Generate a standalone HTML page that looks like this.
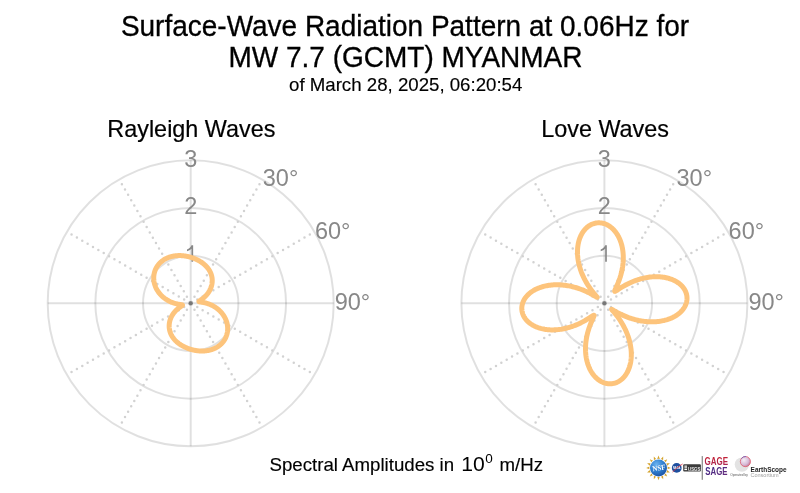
<!DOCTYPE html>
<html><head><meta charset="utf-8">
<style>
html,body{margin:0;padding:0;background:#fff;}
body{width:800px;height:493px;overflow:hidden;position:relative;font-family:"Liberation Sans",sans-serif;}
svg{position:absolute;left:0;top:0;will-change:transform;}
.t{font-size:28px;fill:#000;stroke:#000;stroke-width:0.3px;}
.st{font-size:18.67px;fill:#000;stroke:#000;stroke-width:0.15px;}
.sub{font-size:23.4px;fill:#000;stroke:#000;stroke-width:0.2px;}
.lab{font-size:23.5px;fill:#888;}
.ft{font-size:18.67px;fill:#000;stroke:#000;stroke-width:0.15px;}
</style></head><body>
<svg width="800" height="493" viewBox="0 0 800 493" font-family="Liberation Sans, sans-serif">
<g transform="translate(0,36.3) scale(1,1.04) translate(0,-36.3)"><text x="405" y="36.3" text-anchor="middle" class="t">Surface-Wave Radiation Pattern at 0.06Hz for</text></g>
<g transform="translate(0,66.7) scale(1,1.04) translate(0,-66.7)"><text x="405.5" y="66.7" text-anchor="middle" class="t">MW 7.7 (GCMT) MYANMAR</text></g>
<text x="405.7" y="90.6" text-anchor="middle" class="st">of March 28, 2025, 06:20:54</text>
<circle cx="190.7" cy="303.3" r="47.67" fill="none" stroke="rgba(0,0,0,0.12)" stroke-width="2"/>
<circle cx="190.7" cy="303.3" r="95.33" fill="none" stroke="rgba(0,0,0,0.12)" stroke-width="2"/>
<circle cx="190.7" cy="303.3" r="143.00" fill="none" stroke="rgba(0,0,0,0.12)" stroke-width="2"/>
<line x1="190.7" y1="303.3" x2="262.20" y2="179.46" stroke="#d2d2d2" stroke-width="2.5" stroke-linecap="round" stroke-dasharray="0 6.19" stroke-dashoffset="-1.4"/>
<line x1="190.7" y1="303.3" x2="314.54" y2="231.80" stroke="#d2d2d2" stroke-width="2.5" stroke-linecap="round" stroke-dasharray="0 6.19" stroke-dashoffset="-1.4"/>
<line x1="190.7" y1="303.3" x2="314.54" y2="374.80" stroke="#d2d2d2" stroke-width="2.5" stroke-linecap="round" stroke-dasharray="0 6.19" stroke-dashoffset="-1.4"/>
<line x1="190.7" y1="303.3" x2="262.20" y2="427.14" stroke="#d2d2d2" stroke-width="2.5" stroke-linecap="round" stroke-dasharray="0 6.19" stroke-dashoffset="-1.4"/>
<line x1="190.7" y1="303.3" x2="119.20" y2="427.14" stroke="#d2d2d2" stroke-width="2.5" stroke-linecap="round" stroke-dasharray="0 6.19" stroke-dashoffset="-1.4"/>
<line x1="190.7" y1="303.3" x2="66.86" y2="374.80" stroke="#d2d2d2" stroke-width="2.5" stroke-linecap="round" stroke-dasharray="0 6.19" stroke-dashoffset="-1.4"/>
<line x1="190.7" y1="303.3" x2="66.86" y2="231.80" stroke="#d2d2d2" stroke-width="2.5" stroke-linecap="round" stroke-dasharray="0 6.19" stroke-dashoffset="-1.4"/>
<line x1="190.7" y1="303.3" x2="119.20" y2="179.46" stroke="#d2d2d2" stroke-width="2.5" stroke-linecap="round" stroke-dasharray="0 6.19" stroke-dashoffset="-1.4"/>
<line x1="47.69999999999999" y1="303.3" x2="333.7" y2="303.3" stroke="rgba(0,0,0,0.12)" stroke-width="2"/>
<line x1="190.7" y1="160.3" x2="190.7" y2="446.3" stroke="rgba(0,0,0,0.12)" stroke-width="2"/>
<circle cx="190.7" cy="303.3" r="2" fill="#777"/>
<text x="190.7" y="214.27" text-anchor="middle" class="lab">2</text>
<text x="190.7" y="166.60" text-anchor="middle" class="lab">3</text>
<path d="M191.45,245.23 H193.15 V261.83 H191.45 V248.83 C190.40,249.83 188.70,250.73 187.00,251.33 V249.53 C189.10,248.73 190.90,247.13 191.45,245.23 Z" fill="#888"/>
<text x="262.80" y="186.10" class="lab">30°</text>
<text x="314.90" y="238.60" class="lab">60°</text>
<text x="334.70" y="310.20" class="lab">90°</text>
<polygon points="190.70,257.27 191.10,257.40 191.50,257.52 191.90,257.65 192.29,257.78 192.68,257.92 193.07,258.06 193.46,258.20 193.84,258.35 194.23,258.50 194.61,258.65 194.98,258.81 195.36,258.97 195.73,259.13 196.10,259.30 196.47,259.47 196.84,259.64 197.20,259.82 197.56,260.00 197.92,260.18 198.27,260.37 198.62,260.56 198.97,260.75 199.32,260.95 199.66,261.15 200.00,261.35 200.34,261.56 200.67,261.77 201.00,261.98 201.33,262.20 201.65,262.42 201.97,262.65 202.29,262.87 202.61,263.10 202.92,263.34 203.22,263.58 203.53,263.82 203.83,264.06 204.13,264.31 204.42,264.56 204.71,264.82 204.99,265.08 205.27,265.34 205.55,265.61 205.82,265.88 206.09,266.15 206.35,266.43 206.61,266.71 206.87,266.99 207.12,267.28 207.36,267.57 207.60,267.87 207.84,268.16 208.07,268.47 208.29,268.77 208.51,269.08 208.73,269.40 208.94,269.71 209.14,270.03 209.34,270.36 209.53,270.68 209.72,271.01 209.90,271.35 210.07,271.68 210.24,272.02 210.41,272.37 210.56,272.71 210.71,273.06 210.86,273.42 210.99,273.77 211.12,274.13 211.25,274.49 211.36,274.86 211.47,275.23 211.58,275.60 211.67,275.97 211.76,276.35 211.84,276.72 211.91,277.10 211.98,277.49 212.04,277.87 212.09,278.26 212.13,278.64 212.17,279.04 212.20,279.43 212.21,279.82 212.23,280.22 212.23,280.61 212.23,281.01 212.21,281.41 212.19,281.81 212.16,282.21 212.13,282.61 212.08,283.01 212.03,283.41 211.96,283.82 211.89,284.22 211.81,284.62 211.73,285.02 211.63,285.42 211.53,285.82 211.41,286.22 211.29,286.62 211.16,287.02 211.03,287.42 210.88,287.81 210.73,288.21 210.56,288.60 210.39,288.99 210.22,289.38 210.03,289.77 209.83,290.15 209.63,290.53 209.42,290.91 209.20,291.28 208.98,291.65 208.75,292.02 208.51,292.39 208.26,292.75 208.01,293.10 207.75,293.46 207.48,293.81 207.21,294.15 206.93,294.49 206.65,294.82 206.36,295.15 206.06,295.47 205.77,295.79 205.46,296.10 205.15,296.41 204.84,296.70 204.53,297.00 204.22,297.28 203.90,297.56 203.58,297.83 203.26,298.10 202.94,298.35 202.63,298.60 202.31,298.84 202.00,299.07 201.70,299.30 201.40,299.51 201.11,299.72 200.82,299.91 200.55,300.10 200.29,300.27 200.05,300.44 199.82,300.60 199.61,300.74 199.43,300.88 199.27,301.00 199.13,301.12 199.02,301.23 198.94,301.32 198.90,301.41 198.88,301.49 198.90,301.56 198.96,301.62 199.05,301.68 199.17,301.73 199.33,301.78 199.51,301.82 199.73,301.87 199.98,301.91 200.25,301.96 200.54,302.00 200.86,302.05 201.20,302.10 201.56,302.16 201.93,302.22 202.32,302.28 202.72,302.35 203.13,302.43 203.56,302.51 203.99,302.60 204.43,302.70 204.88,302.80 205.33,302.92 205.79,303.04 206.26,303.16 206.73,303.30 207.20,303.44 207.67,303.60 208.15,303.76 208.63,303.93 209.10,304.10 209.58,304.29 210.06,304.48 210.53,304.69 211.01,304.90 211.48,305.12 211.95,305.35 212.42,305.58 212.89,305.83 213.35,306.08 213.81,306.34 214.27,306.61 214.72,306.89 215.17,307.18 215.61,307.47 216.05,307.77 216.48,308.08 216.91,308.39 217.33,308.72 217.74,309.05 218.15,309.39 218.56,309.73 218.95,310.08 219.34,310.44 219.72,310.81 220.10,311.18 220.47,311.55 220.83,311.94 221.18,312.33 221.52,312.72 221.86,313.12 222.19,313.53 222.51,313.94 222.82,314.36 223.12,314.78 223.41,315.21 223.70,315.64 223.97,316.07 224.24,316.51 224.49,316.95 224.74,317.40 224.98,317.85 225.21,318.30 225.43,318.76 225.63,319.22 225.83,319.68 226.02,320.15 226.20,320.61 226.37,321.08 226.53,321.55 226.68,322.03 226.81,322.50 226.94,322.98 227.06,323.45 227.17,323.93 227.26,324.41 227.35,324.89 227.42,325.37 227.49,325.85 227.55,326.32 227.59,326.80 227.63,327.28 227.65,327.76 227.66,328.23 227.67,328.71 227.66,329.18 227.64,329.65 227.62,330.12 227.58,330.59 227.53,331.06 227.48,331.52 227.41,331.98 227.33,332.44 227.25,332.89 227.15,333.35 227.04,333.80 226.93,334.24 226.80,334.68 226.67,335.12 226.53,335.56 226.37,335.99 226.21,336.41 226.04,336.84 225.86,337.25 225.67,337.67 225.48,338.08 225.27,338.48 225.06,338.88 224.83,339.27 224.60,339.66 224.37,340.04 224.12,340.42 223.87,340.79 223.60,341.15 223.34,341.51 223.06,341.87 222.78,342.21 222.49,342.55 222.19,342.89 221.89,343.22 221.58,343.54 221.26,343.86 220.94,344.17 220.61,344.47 220.28,344.76 219.94,345.05 219.59,345.34 219.24,345.61 218.88,345.88 218.52,346.14 218.16,346.40 217.79,346.65 217.41,346.89 217.03,347.12 216.65,347.35 216.26,347.57 215.87,347.78 215.47,347.99 215.07,348.19 214.67,348.38 214.26,348.56 213.85,348.74 213.44,348.91 213.03,349.07 212.61,349.23 212.19,349.38 211.77,349.52 211.34,349.66 210.91,349.79 210.49,349.91 210.06,350.03 209.62,350.14 209.19,350.24 208.76,350.34 208.32,350.42 207.88,350.51 207.44,350.58 207.01,350.65 206.57,350.72 206.13,350.78 205.69,350.83 205.24,350.87 204.80,350.91 204.36,350.95 203.92,350.97 203.48,350.99 203.04,351.01 202.60,351.02 202.16,351.03 201.72,351.03 201.28,351.02 200.84,351.01 200.40,350.99 199.97,350.97 199.53,350.94 199.09,350.91 198.66,350.87 198.23,350.83 197.80,350.78 197.37,350.73 196.94,350.68 196.51,350.62 196.08,350.55 195.66,350.48 195.24,350.41 194.81,350.33 194.39,350.25 193.98,350.16 193.56,350.07 193.15,349.98 192.73,349.88 192.32,349.77 191.91,349.67 191.51,349.56 191.10,349.44 190.70,349.33 190.30,349.20 189.90,349.08 189.50,348.95 189.11,348.82 188.72,348.68 188.33,348.54 187.94,348.40 187.56,348.25 187.17,348.10 186.79,347.95 186.42,347.79 186.04,347.63 185.67,347.47 185.30,347.30 184.93,347.13 184.56,346.96 184.20,346.78 183.84,346.60 183.48,346.42 183.13,346.23 182.78,346.04 182.43,345.85 182.08,345.65 181.74,345.45 181.40,345.25 181.06,345.04 180.73,344.83 180.40,344.62 180.07,344.40 179.75,344.18 179.43,343.95 179.11,343.73 178.79,343.50 178.48,343.26 178.18,343.02 177.87,342.78 177.57,342.54 177.27,342.29 176.98,342.04 176.69,341.78 176.41,341.52 176.13,341.26 175.85,340.99 175.58,340.72 175.31,340.45 175.05,340.17 174.79,339.89 174.53,339.61 174.28,339.32 174.04,339.03 173.80,338.73 173.56,338.44 173.33,338.13 173.11,337.83 172.89,337.52 172.67,337.20 172.46,336.89 172.26,336.57 172.06,336.24 171.87,335.92 171.68,335.59 171.50,335.25 171.33,334.92 171.16,334.58 170.99,334.23 170.84,333.89 170.69,333.54 170.54,333.18 170.41,332.83 170.28,332.47 170.15,332.11 170.04,331.74 169.93,331.37 169.82,331.00 169.73,330.63 169.64,330.25 169.56,329.88 169.49,329.50 169.42,329.11 169.36,328.73 169.31,328.34 169.27,327.96 169.23,327.56 169.20,327.17 169.19,326.78 169.17,326.38 169.17,325.99 169.17,325.59 169.19,325.19 169.21,324.79 169.24,324.39 169.27,323.99 169.32,323.59 169.37,323.19 169.44,322.78 169.51,322.38 169.59,321.98 169.67,321.58 169.77,321.18 169.87,320.78 169.99,320.38 170.11,319.98 170.24,319.58 170.37,319.18 170.52,318.79 170.67,318.39 170.84,318.00 171.01,317.61 171.18,317.22 171.37,316.83 171.57,316.45 171.77,316.07 171.98,315.69 172.20,315.32 172.42,314.95 172.65,314.58 172.89,314.21 173.14,313.85 173.39,313.50 173.65,313.14 173.92,312.79 174.19,312.45 174.47,312.11 174.75,311.78 175.04,311.45 175.34,311.13 175.63,310.81 175.94,310.50 176.25,310.19 176.56,309.90 176.87,309.60 177.18,309.32 177.50,309.04 177.82,308.77 178.14,308.50 178.46,308.25 178.77,308.00 179.09,307.76 179.40,307.53 179.70,307.30 180.00,307.09 180.29,306.88 180.58,306.69 180.85,306.50 181.11,306.33 181.35,306.16 181.58,306.00 181.79,305.86 181.97,305.72 182.13,305.60 182.27,305.48 182.38,305.37 182.46,305.28 182.50,305.19 182.52,305.11 182.50,305.04 182.44,304.98 182.35,304.92 182.23,304.87 182.07,304.82 181.89,304.78 181.67,304.73 181.42,304.69 181.15,304.64 180.86,304.60 180.54,304.55 180.20,304.50 179.84,304.44 179.47,304.38 179.08,304.32 178.68,304.25 178.27,304.17 177.84,304.09 177.41,304.00 176.97,303.90 176.52,303.80 176.07,303.68 175.61,303.56 175.14,303.44 174.67,303.30 174.20,303.16 173.73,303.00 173.25,302.84 172.77,302.67 172.30,302.50 171.82,302.31 171.34,302.12 170.87,301.91 170.39,301.70 169.92,301.48 169.45,301.25 168.98,301.02 168.51,300.77 168.05,300.52 167.59,300.26 167.13,299.99 166.68,299.71 166.23,299.42 165.79,299.13 165.35,298.83 164.92,298.52 164.49,298.21 164.07,297.88 163.66,297.55 163.25,297.21 162.84,296.87 162.45,296.52 162.06,296.16 161.68,295.79 161.30,295.42 160.93,295.05 160.57,294.66 160.22,294.27 159.88,293.88 159.54,293.48 159.21,293.07 158.89,292.66 158.58,292.24 158.28,291.82 157.99,291.39 157.70,290.96 157.43,290.53 157.16,290.09 156.91,289.65 156.66,289.20 156.42,288.75 156.19,288.30 155.97,287.84 155.77,287.38 155.57,286.92 155.38,286.45 155.20,285.99 155.03,285.52 154.87,285.05 154.72,284.57 154.59,284.10 154.46,283.62 154.34,283.15 154.23,282.67 154.14,282.19 154.05,281.71 153.98,281.23 153.91,280.75 153.85,280.28 153.81,279.80 153.77,279.32 153.75,278.84 153.74,278.37 153.73,277.89 153.74,277.42 153.76,276.95 153.78,276.48 153.82,276.01 153.87,275.54 153.92,275.08 153.99,274.62 154.07,274.16 154.15,273.71 154.25,273.25 154.36,272.80 154.47,272.36 154.60,271.92 154.73,271.48 154.87,271.04 155.03,270.61 155.19,270.19 155.36,269.76 155.54,269.35 155.73,268.93 155.92,268.52 156.13,268.12 156.34,267.72 156.57,267.33 156.80,266.94 157.03,266.56 157.28,266.18 157.53,265.81 157.80,265.45 158.06,265.09 158.34,264.73 158.62,264.39 158.91,264.05 159.21,263.71 159.51,263.38 159.82,263.06 160.14,262.74 160.46,262.43 160.79,262.13 161.12,261.84 161.46,261.55 161.81,261.26 162.16,260.99 162.52,260.72 162.88,260.46 163.24,260.20 163.61,259.95 163.99,259.71 164.37,259.48 164.75,259.25 165.14,259.03 165.53,258.82 165.93,258.61 166.33,258.41 166.73,258.22 167.14,258.04 167.55,257.86 167.96,257.69 168.37,257.53 168.79,257.37 169.21,257.22 169.63,257.08 170.06,256.94 170.49,256.81 170.91,256.69 171.34,256.57 171.78,256.46 172.21,256.36 172.64,256.26 173.08,256.18 173.52,256.09 173.96,256.02 174.39,255.95 174.83,255.88 175.27,255.82 175.71,255.77 176.16,255.73 176.60,255.69 177.04,255.65 177.48,255.63 177.92,255.61 178.36,255.59 178.80,255.58 179.24,255.57 179.68,255.57 180.12,255.58 180.56,255.59 181.00,255.61 181.43,255.63 181.87,255.66 182.31,255.69 182.74,255.73 183.17,255.77 183.60,255.82 184.03,255.87 184.46,255.92 184.89,255.98 185.32,256.05 185.74,256.12 186.16,256.19 186.59,256.27 187.01,256.35 187.42,256.44 187.84,256.53 188.25,256.62 188.67,256.72 189.08,256.83 189.49,256.93 189.89,257.04 190.30,257.16" fill="none" stroke="#fdc47c" stroke-width="5" stroke-linejoin="round"/>
<text x="191.39999999999998" y="137.0" text-anchor="middle" class="sub">Rayleigh Waves</text>
<circle cx="604.4" cy="303.3" r="47.67" fill="none" stroke="rgba(0,0,0,0.12)" stroke-width="2"/>
<circle cx="604.4" cy="303.3" r="95.33" fill="none" stroke="rgba(0,0,0,0.12)" stroke-width="2"/>
<circle cx="604.4" cy="303.3" r="143.00" fill="none" stroke="rgba(0,0,0,0.12)" stroke-width="2"/>
<line x1="604.4" y1="303.3" x2="675.90" y2="179.46" stroke="#d2d2d2" stroke-width="2.5" stroke-linecap="round" stroke-dasharray="0 6.19" stroke-dashoffset="-1.4"/>
<line x1="604.4" y1="303.3" x2="728.24" y2="231.80" stroke="#d2d2d2" stroke-width="2.5" stroke-linecap="round" stroke-dasharray="0 6.19" stroke-dashoffset="-1.4"/>
<line x1="604.4" y1="303.3" x2="728.24" y2="374.80" stroke="#d2d2d2" stroke-width="2.5" stroke-linecap="round" stroke-dasharray="0 6.19" stroke-dashoffset="-1.4"/>
<line x1="604.4" y1="303.3" x2="675.90" y2="427.14" stroke="#d2d2d2" stroke-width="2.5" stroke-linecap="round" stroke-dasharray="0 6.19" stroke-dashoffset="-1.4"/>
<line x1="604.4" y1="303.3" x2="532.90" y2="427.14" stroke="#d2d2d2" stroke-width="2.5" stroke-linecap="round" stroke-dasharray="0 6.19" stroke-dashoffset="-1.4"/>
<line x1="604.4" y1="303.3" x2="480.56" y2="374.80" stroke="#d2d2d2" stroke-width="2.5" stroke-linecap="round" stroke-dasharray="0 6.19" stroke-dashoffset="-1.4"/>
<line x1="604.4" y1="303.3" x2="480.56" y2="231.80" stroke="#d2d2d2" stroke-width="2.5" stroke-linecap="round" stroke-dasharray="0 6.19" stroke-dashoffset="-1.4"/>
<line x1="604.4" y1="303.3" x2="532.90" y2="179.46" stroke="#d2d2d2" stroke-width="2.5" stroke-linecap="round" stroke-dasharray="0 6.19" stroke-dashoffset="-1.4"/>
<line x1="461.4" y1="303.3" x2="747.4" y2="303.3" stroke="rgba(0,0,0,0.12)" stroke-width="2"/>
<line x1="604.4" y1="160.3" x2="604.4" y2="446.3" stroke="rgba(0,0,0,0.12)" stroke-width="2"/>
<circle cx="604.4" cy="303.3" r="2" fill="#777"/>
<text x="604.4" y="214.27" text-anchor="middle" class="lab">2</text>
<text x="604.4" y="166.60" text-anchor="middle" class="lab">3</text>
<path d="M605.15,245.23 H606.85 V261.83 H605.15 V248.83 C604.10,249.83 602.40,250.73 600.70,251.33 V249.53 C602.80,248.73 604.60,247.13 605.15,245.23 Z" fill="#888"/>
<text x="676.50" y="186.10" class="lab">30°</text>
<text x="728.60" y="238.60" class="lab">60°</text>
<text x="748.40" y="310.20" class="lab">90°</text>
<polygon points="604.40,223.71 605.09,223.95 605.78,224.22 606.46,224.52 607.14,224.84 607.81,225.19 608.47,225.57 609.13,225.98 609.78,226.41 610.42,226.87 611.04,227.36 611.66,227.87 612.27,228.41 612.87,228.97 613.45,229.56 614.03,230.17 614.59,230.81 615.13,231.47 615.67,232.16 616.19,232.87 616.69,233.60 617.18,234.35 617.65,235.12 618.11,235.92 618.55,236.74 618.97,237.58 619.38,238.43 619.76,239.31 620.13,240.20 620.48,241.12 620.81,242.05 621.12,243.00 621.41,243.96 621.69,244.94 621.94,245.94 622.17,246.95 622.38,247.97 622.57,249.01 622.73,250.06 622.88,251.12 623.00,252.20 623.10,253.28 623.18,254.37 623.24,255.47 623.27,256.58 623.29,257.70 623.28,258.83 623.25,259.96 623.19,261.09 623.12,262.23 623.02,263.37 622.90,264.52 622.76,265.66 622.60,266.81 622.41,267.95 622.21,269.09 621.98,270.23 621.74,271.36 621.48,272.49 621.19,273.62 620.90,274.73 620.58,275.83 620.25,276.92 619.91,278.00 619.55,279.06 619.18,280.10 618.80,281.12 618.42,282.12 618.03,283.10 617.64,284.04 617.25,284.95 616.87,285.82 616.50,286.65 616.14,287.43 615.81,288.16 615.50,288.83 615.23,289.43 615.01,289.97 614.83,290.42 614.71,290.79 614.66,291.07 614.68,291.26 614.77,291.37 614.95,291.38 615.20,291.30 615.54,291.15 615.94,290.92 616.43,290.63 616.97,290.28 617.59,289.88 618.26,289.44 618.98,288.97 619.75,288.48 620.56,287.96 621.41,287.44 622.30,286.90 623.22,286.36 624.17,285.81 625.14,285.27 626.14,284.73 627.16,284.20 628.20,283.68 629.26,283.17 630.34,282.67 631.42,282.19 632.53,281.72 633.64,281.27 634.76,280.83 635.90,280.42 637.04,280.02 638.18,279.64 639.34,279.29 640.49,278.96 641.65,278.64 642.82,278.35 643.98,278.09 645.14,277.84 646.31,277.62 647.47,277.42 648.63,277.25 649.78,277.10 650.94,276.97 652.08,276.87 653.22,276.79 654.36,276.74 655.48,276.71 656.60,276.70 657.71,276.72 658.81,276.76 659.90,276.83 660.97,276.92 662.04,277.03 663.09,277.17 664.12,277.33 665.14,277.52 666.15,277.72 667.14,277.95 668.11,278.20 669.07,278.48 670.00,278.77 670.92,279.09 671.82,279.43 672.70,279.78 673.55,280.16 674.39,280.56 675.20,280.98 675.99,281.41 676.76,281.87 677.50,282.34 678.22,282.83 678.91,283.33 679.58,283.86 680.22,284.40 680.84,284.95 681.43,285.52 681.99,286.10 682.52,286.70 683.02,287.30 683.50,287.92 683.95,288.56 684.37,289.20 684.75,289.85 685.11,290.52 685.44,291.19 685.74,291.87 686.00,292.56 686.24,293.25 686.44,293.95 686.62,294.66 686.76,295.37 686.87,296.08 686.95,296.80 686.99,297.52 687.01,298.25 686.99,298.97 686.94,299.70 686.86,300.42 686.74,301.14 686.59,301.87 686.42,302.58 686.21,303.30 685.96,304.01 685.69,304.72 685.38,305.42 685.05,306.12 684.68,306.80 684.28,307.49 683.85,308.16 683.39,308.82 682.90,309.48 682.37,310.12 681.82,310.76 681.24,311.38 680.63,311.99 680.00,312.58 679.33,313.16 678.64,313.73 677.92,314.29 677.17,314.83 676.39,315.35 675.59,315.85 674.77,316.34 673.92,316.81 673.04,317.27 672.14,317.70 671.22,318.11 670.28,318.51 669.31,318.88 668.32,319.24 667.31,319.57 666.28,319.88 665.23,320.17 664.17,320.44 663.08,320.68 661.98,320.90 660.86,321.10 659.73,321.28 658.58,321.43 657.41,321.55 656.23,321.66 655.04,321.73 653.84,321.79 652.63,321.81 651.40,321.82 650.17,321.79 648.93,321.74 647.68,321.67 646.42,321.57 645.16,321.45 643.89,321.30 642.62,321.12 641.34,320.92 640.07,320.70 638.79,320.45 637.51,320.17 636.23,319.87 634.96,319.55 633.69,319.20 632.42,318.83 631.15,318.44 629.90,318.02 628.65,317.59 627.41,317.13 626.19,316.65 624.98,316.16 623.78,315.65 622.60,315.12 621.45,314.58 620.31,314.03 619.21,313.48 618.14,312.92 617.11,312.37 616.13,311.82 615.20,311.29 614.35,310.79 613.57,310.34 612.90,309.94 612.35,309.63 611.95,309.41 611.70,309.32 611.62,309.36 611.70,309.54 611.94,309.85 612.31,310.29 612.78,310.84 613.34,311.49 613.96,312.21 614.62,313.00 615.31,313.84 616.03,314.73 616.75,315.65 617.48,316.61 618.21,317.60 618.93,318.61 619.65,319.65 620.35,320.71 621.04,321.78 621.71,322.87 622.37,323.97 623.01,325.09 623.63,326.22 624.23,327.35 624.80,328.50 625.36,329.65 625.89,330.81 626.40,331.97 626.89,333.14 627.35,334.31 627.78,335.49 628.20,336.66 628.58,337.84 628.94,339.01 629.28,340.19 629.59,341.36 629.88,342.53 630.14,343.70 630.37,344.86 630.58,346.02 630.76,347.17 630.92,348.31 631.05,349.45 631.15,350.58 631.23,351.70 631.28,352.81 631.31,353.91 631.32,355.00 631.29,356.08 631.25,357.15 631.18,358.20 631.08,359.24 630.96,360.27 630.82,361.28 630.66,362.27 630.47,363.25 630.26,364.21 630.02,365.16 629.77,366.08 629.49,366.99 629.19,367.88 628.87,368.75 628.53,369.60 628.17,370.43 627.79,371.24 627.39,372.02 626.98,372.79 626.54,373.53 626.09,374.25 625.62,374.94 625.14,375.61 624.63,376.26 624.12,376.88 623.58,377.48 623.04,378.05 622.48,378.60 621.90,379.12 621.32,379.61 620.72,380.08 620.11,380.52 619.49,380.94 618.86,381.32 618.22,381.68 617.57,382.01 616.92,382.32 616.25,382.59 615.58,382.84 614.90,383.06 614.22,383.25 613.53,383.41 612.83,383.54 612.14,383.65 611.44,383.72 610.73,383.77 610.03,383.79 609.32,383.78 608.62,383.73 607.91,383.67 607.20,383.57 606.50,383.44 605.80,383.29 605.10,383.10 604.40,382.89 603.71,382.65 603.02,382.38 602.34,382.08 601.66,381.76 600.99,381.41 600.33,381.03 599.67,380.62 599.02,380.19 598.38,379.73 597.76,379.24 597.14,378.73 596.53,378.19 595.93,377.63 595.35,377.04 594.77,376.43 594.21,375.79 593.67,375.13 593.13,374.44 592.61,373.73 592.11,373.00 591.62,372.25 591.15,371.48 590.69,370.68 590.25,369.86 589.83,369.02 589.42,368.17 589.04,367.29 588.67,366.40 588.32,365.48 587.99,364.55 587.68,363.60 587.39,362.64 587.11,361.66 586.86,360.66 586.63,359.65 586.42,358.63 586.23,357.59 586.07,356.54 585.92,355.48 585.80,354.40 585.70,353.32 585.62,352.23 585.56,351.13 585.53,350.02 585.51,348.90 585.52,347.77 585.55,346.64 585.61,345.51 585.68,344.37 585.78,343.23 585.90,342.08 586.04,340.94 586.20,339.79 586.39,338.65 586.59,337.51 586.82,336.37 587.06,335.24 587.32,334.11 587.61,332.98 587.90,331.87 588.22,330.77 588.55,329.68 588.89,328.60 589.25,327.54 589.62,326.50 590.00,325.48 590.38,324.48 590.77,323.50 591.16,322.56 591.55,321.65 591.93,320.78 592.30,319.95 592.66,319.17 592.99,318.44 593.30,317.77 593.57,317.17 593.79,316.63 593.97,316.18 594.09,315.81 594.14,315.53 594.12,315.34 594.03,315.23 593.85,315.22 593.60,315.30 593.26,315.45 592.86,315.68 592.37,315.97 591.83,316.32 591.21,316.72 590.54,317.16 589.82,317.63 589.05,318.12 588.24,318.64 587.39,319.16 586.50,319.70 585.58,320.24 584.63,320.79 583.66,321.33 582.66,321.87 581.64,322.40 580.60,322.92 579.54,323.43 578.46,323.93 577.38,324.41 576.27,324.88 575.16,325.33 574.04,325.77 572.90,326.18 571.76,326.58 570.62,326.96 569.46,327.31 568.31,327.64 567.15,327.96 565.98,328.25 564.82,328.51 563.66,328.76 562.49,328.98 561.33,329.18 560.17,329.35 559.02,329.50 557.86,329.63 556.72,329.73 555.58,329.81 554.44,329.86 553.32,329.89 552.20,329.90 551.09,329.88 549.99,329.84 548.90,329.77 547.83,329.68 546.76,329.57 545.71,329.43 544.68,329.27 543.66,329.08 542.65,328.88 541.66,328.65 540.69,328.40 539.73,328.12 538.80,327.83 537.88,327.51 536.98,327.17 536.10,326.82 535.25,326.44 534.41,326.04 533.60,325.62 532.81,325.19 532.04,324.73 531.30,324.26 530.58,323.77 529.89,323.27 529.22,322.74 528.58,322.20 527.96,321.65 527.37,321.08 526.81,320.50 526.28,319.90 525.78,319.30 525.30,318.68 524.85,318.04 524.43,317.40 524.05,316.75 523.69,316.08 523.36,315.41 523.06,314.73 522.80,314.04 522.56,313.35 522.36,312.65 522.18,311.94 522.04,311.23 521.93,310.52 521.85,309.80 521.81,309.08 521.79,308.35 521.81,307.63 521.86,306.90 521.94,306.18 522.06,305.46 522.21,304.73 522.38,304.02 522.59,303.30 522.84,302.59 523.11,301.88 523.42,301.18 523.75,300.48 524.12,299.80 524.52,299.11 524.95,298.44 525.41,297.78 525.90,297.12 526.43,296.48 526.98,295.84 527.56,295.22 528.17,294.61 528.80,294.02 529.47,293.44 530.16,292.87 530.88,292.31 531.63,291.77 532.41,291.25 533.21,290.75 534.03,290.26 534.88,289.79 535.76,289.33 536.66,288.90 537.58,288.49 538.52,288.09 539.49,287.72 540.48,287.36 541.49,287.03 542.52,286.72 543.57,286.43 544.63,286.16 545.72,285.92 546.82,285.70 547.94,285.50 549.07,285.32 550.22,285.17 551.39,285.05 552.57,284.94 553.76,284.87 554.96,284.81 556.17,284.79 557.40,284.78 558.63,284.81 559.87,284.86 561.12,284.93 562.38,285.03 563.64,285.15 564.91,285.30 566.18,285.48 567.46,285.68 568.73,285.90 570.01,286.15 571.29,286.43 572.57,286.73 573.84,287.05 575.11,287.40 576.38,287.77 577.65,288.16 578.90,288.58 580.15,289.01 581.39,289.47 582.61,289.95 583.82,290.44 585.02,290.95 586.20,291.48 587.35,292.02 588.49,292.57 589.59,293.12 590.66,293.68 591.69,294.23 592.67,294.78 593.60,295.31 594.45,295.81 595.23,296.26 595.90,296.66 596.45,296.97 596.85,297.19 597.10,297.28 597.18,297.24 597.10,297.06 596.86,296.75 596.49,296.31 596.02,295.76 595.46,295.11 594.84,294.39 594.18,293.60 593.49,292.76 592.77,291.87 592.05,290.95 591.32,289.99 590.59,289.00 589.87,287.99 589.15,286.95 588.45,285.89 587.76,284.82 587.09,283.73 586.43,282.63 585.79,281.51 585.17,280.38 584.57,279.25 584.00,278.10 583.44,276.95 582.91,275.79 582.40,274.63 581.91,273.46 581.45,272.29 581.02,271.11 580.60,269.94 580.22,268.76 579.86,267.59 579.52,266.41 579.21,265.24 578.92,264.07 578.66,262.90 578.43,261.74 578.22,260.58 578.04,259.43 577.88,258.29 577.75,257.15 577.65,256.02 577.57,254.90 577.52,253.79 577.49,252.69 577.48,251.60 577.51,250.52 577.55,249.45 577.62,248.40 577.72,247.36 577.84,246.33 577.98,245.32 578.14,244.33 578.33,243.35 578.54,242.39 578.78,241.44 579.03,240.52 579.31,239.61 579.61,238.72 579.93,237.85 580.27,237.00 580.63,236.17 581.01,235.36 581.41,234.58 581.82,233.81 582.26,233.07 582.71,232.35 583.18,231.66 583.66,230.99 584.17,230.34 584.68,229.72 585.22,229.12 585.76,228.55 586.32,228.00 586.90,227.48 587.48,226.99 588.08,226.52 588.69,226.08 589.31,225.66 589.94,225.28 590.58,224.92 591.23,224.59 591.88,224.28 592.55,224.01 593.22,223.76 593.90,223.54 594.58,223.35 595.27,223.19 595.97,223.06 596.66,222.95 597.36,222.88 598.07,222.83 598.77,222.81 599.48,222.82 600.18,222.87 600.89,222.93 601.60,223.03 602.30,223.16 603.00,223.31 603.70,223.50" fill="none" stroke="#fdc47c" stroke-width="5" stroke-linejoin="round"/>
<text x="605.1" y="137.0" text-anchor="middle" class="sub">Love Waves</text>
<text x="269.5" y="470.5" class="ft">Spectral Amplitudes in</text><text x="461.3" y="470.5" font-size="20" textLength="23.5" lengthAdjust="spacingAndGlyphs">10</text><text x="485.2" y="462.8" font-size="13.5">0</text><text x="499.5" y="470.5" class="ft">m/Hz</text>
<defs>
<radialGradient id="nsfg" cx="0.38" cy="0.3" r="0.8"><stop offset="0" stop-color="#6cb4f0"/><stop offset="0.5" stop-color="#2f7fd0"/><stop offset="1" stop-color="#1a4a9a"/></radialGradient>
<radialGradient id="esg" cx="0.35" cy="0.35" r="0.75"><stop offset="0" stop-color="#f4eef6"/><stop offset="0.6" stop-color="#d8bcd8"/><stop offset="1" stop-color="#c07090"/></radialGradient>
<linearGradient id="gageg" x1="0" y1="0" x2="0" y2="1"><stop offset="0" stop-color="#c82030"/><stop offset="1" stop-color="#a82a5a"/></linearGradient>
<linearGradient id="sageg" x1="0" y1="0" x2="1" y2="1"><stop offset="0" stop-color="#3a2a8a"/><stop offset="1" stop-color="#6a2a7a"/></linearGradient>
</defs>
<g transform="translate(658.5,467.9)">
<polygon points="0,-12.3 1.3,-8.9 -1.3,-8.9" fill="#d4a22a" transform="rotate(0.0)"/><polygon points="0,-12.3 1.3,-8.9 -1.3,-8.9" fill="#d4a22a" transform="rotate(22.5)"/><polygon points="0,-12.3 1.3,-8.9 -1.3,-8.9" fill="#d4a22a" transform="rotate(45.0)"/><polygon points="0,-12.3 1.3,-8.9 -1.3,-8.9" fill="#d4a22a" transform="rotate(67.5)"/><polygon points="0,-12.3 1.3,-8.9 -1.3,-8.9" fill="#d4a22a" transform="rotate(90.0)"/><polygon points="0,-12.3 1.3,-8.9 -1.3,-8.9" fill="#d4a22a" transform="rotate(112.5)"/><polygon points="0,-12.3 1.3,-8.9 -1.3,-8.9" fill="#d4a22a" transform="rotate(135.0)"/><polygon points="0,-12.3 1.3,-8.9 -1.3,-8.9" fill="#d4a22a" transform="rotate(157.5)"/><polygon points="0,-12.3 1.3,-8.9 -1.3,-8.9" fill="#d4a22a" transform="rotate(180.0)"/><polygon points="0,-12.3 1.3,-8.9 -1.3,-8.9" fill="#d4a22a" transform="rotate(202.5)"/><polygon points="0,-12.3 1.3,-8.9 -1.3,-8.9" fill="#d4a22a" transform="rotate(225.0)"/><polygon points="0,-12.3 1.3,-8.9 -1.3,-8.9" fill="#d4a22a" transform="rotate(247.5)"/><polygon points="0,-12.3 1.3,-8.9 -1.3,-8.9" fill="#d4a22a" transform="rotate(270.0)"/><polygon points="0,-12.3 1.3,-8.9 -1.3,-8.9" fill="#d4a22a" transform="rotate(292.5)"/><polygon points="0,-12.3 1.3,-8.9 -1.3,-8.9" fill="#d4a22a" transform="rotate(315.0)"/><polygon points="0,-12.3 1.3,-8.9 -1.3,-8.9" fill="#d4a22a" transform="rotate(337.5)"/>
<circle r="9.1" fill="#fff"/>
<circle r="8.5" fill="url(#nsfg)"/>
<text x="0.3" y="2.6" text-anchor="middle" font-size="7.5" fill="#fff" font-family="Liberation Serif, serif" font-weight="bold" transform="rotate(-8)" textLength="13" lengthAdjust="spacingAndGlyphs">NSF</text>
</g>
<circle cx="676.7" cy="467.9" r="4.9" fill="#1d4f9f"/>
<text x="676.7" y="469.2" text-anchor="middle" font-size="3.6" fill="#fff" font-weight="bold" textLength="7.5" lengthAdjust="spacingAndGlyphs">NASA</text>
<path d="M672.5 472 Q677 467 682.6 464" stroke="#e8303a" stroke-width="0.8" fill="none"/>
<rect x="683.2" y="464.2" width="17.7" height="7.4" rx="1" fill="#3c3c3c"/>
<rect x="684.4" y="465.6" width="2.6" height="1.1" fill="#fff"/>
<rect x="684.4" y="467.3" width="2.6" height="1.1" fill="#fff"/>
<rect x="684.4" y="469.0" width="2.6" height="1.1" fill="#fff"/>
<text x="688" y="470.6" font-size="6.2" fill="#e8e8e8" font-weight="bold" textLength="12.3" lengthAdjust="spacingAndGlyphs">USGS</text>
<rect x="701.7" y="456.1" width="1.1" height="23.7" fill="#7a7a7a"/>
<text x="704.6" y="465.1" font-size="10.6" fill="url(#gageg)" font-weight="bold" textLength="23.6" lengthAdjust="spacingAndGlyphs">GAGE</text>
<text x="705.3" y="475.0" font-size="10.6" fill="url(#sageg)" font-weight="bold" textLength="22.2" lengthAdjust="spacingAndGlyphs">SAGE</text>
<circle cx="741.9" cy="464.6" r="7.2" fill="#e3e3e3"/>
<circle cx="745.4" cy="461.6" r="5.1" fill="url(#esg)" stroke="#e05060" stroke-width="0.7"/>
<path d="M741.5 458.5 A5.1 5.1 0 0 1 746 456.5" stroke="#6a60c0" stroke-width="0.8" fill="none"/>
<text x="750.6" y="471.9" font-size="8.1" fill="#1e1e1e" font-weight="bold" textLength="36" lengthAdjust="spacingAndGlyphs">EarthScope</text>
<text x="750.4" y="476.9" font-size="5.4" fill="#a0a0a0" textLength="28.3" lengthAdjust="spacingAndGlyphs">Consortium</text>
<text x="730.2" y="476.4" font-size="2.8" fill="#555" textLength="17.6" lengthAdjust="spacingAndGlyphs">Operated by</text>

</svg>
</body></html>
